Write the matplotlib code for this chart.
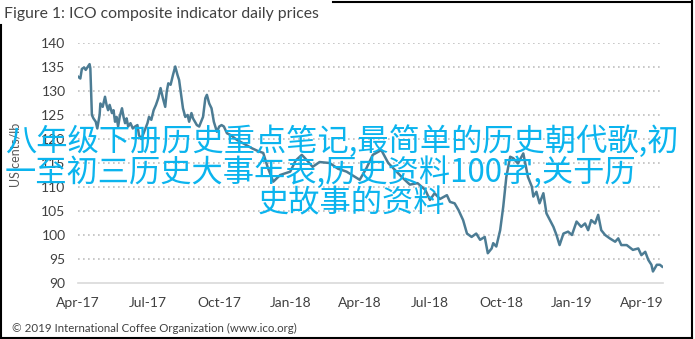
import matplotlib
matplotlib.use("Agg")
import matplotlib.pyplot as plt
import matplotlib.dates as mdates
from matplotlib.lines import Line2D
import pandas as pd

# ICO composite indicator, US cents/lb
dates = [
    "2017-04-01", "2017-04-04", "2017-04-06", "2017-04-09", "2017-04-11", "2017-04-14",
    "2017-04-16", "2017-04-17", "2017-04-19", "2017-04-21", "2017-04-24", "2017-04-26",
    "2017-04-29", "2017-04-30", "2017-05-03", "2017-05-06", "2017-05-08", "2017-05-10",
    "2017-05-12", "2017-05-15", "2017-05-17", "2017-05-19", "2017-05-21", "2017-05-23",
    "2017-05-25", "2017-05-28", "2017-05-30", "2017-06-01", "2017-06-03", "2017-06-05",
    "2017-06-08", "2017-06-11", "2017-06-14", "2017-06-17", "2017-06-19", "2017-06-22",
    "2017-06-25", "2017-06-30", "2017-07-02", "2017-07-05", "2017-07-08", "2017-07-11",
    "2017-07-14", "2017-07-17", "2017-07-20", "2017-07-23", "2017-07-25", "2017-07-27",
    "2017-07-30", "2017-08-02", "2017-08-05", "2017-08-08", "2017-08-10", "2017-08-12",
    "2017-08-15", "2017-08-18", "2017-08-21", "2017-08-23", "2017-08-26", "2017-08-28",
    "2017-09-02", "2017-09-05", "2017-09-10", "2017-09-13", "2017-09-15", "2017-09-18",
    "2017-09-21", "2017-09-24", "2017-09-28", "2017-10-01", "2017-10-04", "2017-10-07",
    "2017-10-11", "2017-10-16", "2017-10-24", "2017-11-01", "2017-11-12", "2017-11-20",
    "2017-11-27", "2017-12-03", "2017-12-10", "2017-12-19", "2018-01-01", "2018-01-08",
    "2018-01-16", "2018-01-23", "2018-01-30", "2018-02-08", "2018-02-21", "2018-03-04",
    "2018-03-15", "2018-03-22", "2018-04-01", "2018-04-10", "2018-04-18", "2018-04-29",
    "2018-05-08", "2018-05-17", "2018-05-26", "2018-06-05", "2018-06-15", "2018-06-25",
    "2018-07-01", "2018-07-07", "2018-07-14", "2018-07-23", "2018-07-27", "2018-08-02",
    "2018-08-07", "2018-08-13", "2018-08-18", "2018-08-24", "2018-08-30", "2018-09-04",
    "2018-09-10", "2018-09-14", "2018-09-19", "2018-09-21", "2018-09-25", "2018-09-30",
    "2018-10-04", "2018-10-08", "2018-10-13", "2018-10-17", "2018-10-23", "2018-10-30",
    "2018-11-05", "2018-11-10", "2018-11-12", "2018-11-16", "2018-11-20", "2018-11-25",
    "2018-11-29", "2018-12-08", "2018-12-12", "2018-12-16", "2018-12-21", "2018-12-27",
    "2019-01-01", "2019-01-07", "2019-01-13", "2019-01-18", "2019-01-22", "2019-01-26",
    "2019-01-31", "2019-02-04", "2019-02-08", "2019-02-13", "2019-02-19", "2019-02-26",
    "2019-03-02", "2019-03-06", "2019-03-13", "2019-03-21", "2019-03-28", "2019-04-01",
    "2019-04-06", "2019-04-10", "2019-04-14", "2019-04-16", "2019-04-21", "2019-04-25",
    "2019-04-28",
]
prices = [
    133.0, 132.6, 134.6, 134.9, 134.4, 135.1,
    135.6, 134.7, 125.0, 124.3, 123.6, 122.2,
    125.0, 127.4, 126.7, 128.8, 127.1, 126.0,
    127.1, 125.4, 126.0, 123.6, 124.6, 122.6,
    124.6, 126.4, 124.6, 123.3, 124.3, 122.6,
    123.3, 122.2, 122.6, 122.9, 120.8, 120.0,
    121.2, 123.3, 124.6, 124.0, 126.0, 127.1,
    128.5, 130.6, 128.5, 126.7, 129.9, 131.6,
    131.3, 133.3, 135.1, 133.3, 132.3, 129.9,
    126.4, 124.6, 125.0, 123.6, 125.4, 124.3,
    122.9, 122.6, 124.6, 128.5, 129.2, 127.4,
    126.4, 123.6, 121.5, 122.6, 122.9, 122.6,
    121.2, 120.8, 119.8, 119.1, 118.1, 117.5,
    117.1, 114.0, 111.1, 112.5, 113.2, 115.5,
    116.7, 115.5, 114.2, 115.2, 115.0, 113.8,
    113.2, 112.5, 111.5, 114.0, 116.7, 117.7,
    115.0, 113.5, 112.0, 110.5, 110.8, 109.4,
    107.3, 108.7, 107.5, 108.3, 106.9, 106.6,
    105.2, 103.1, 100.3, 99.6, 100.3, 99.0,
    99.6, 96.2, 97.2, 98.3, 97.6, 101.0,
    105.9, 112.1, 116.3, 116.0, 114.9, 117.0,
    112.1, 110.1, 108.0, 109.0, 106.6, 108.7,
    104.5, 101.7, 100.0, 97.9, 100.3, 100.7,
    100.0, 102.8, 101.7, 102.4, 101.0, 103.1,
    102.4, 104.2, 101.0, 100.0, 99.3, 98.6,
    99.3, 97.9, 97.9, 96.9, 97.2, 95.8,
    96.5, 94.8, 93.8, 92.4, 93.8, 93.8,
    93.4,
]
y_ticks = [90, 95, 100, 105, 110, 115, 120, 125, 130, 135, 140]
x_ticks = ["2017-04-01", "2017-07-01", "2017-10-01", "2018-01-01", "2018-04-01",
           "2018-07-01", "2018-10-01", "2019-01-01", "2019-04-01"]

title = "Figure 1: ICO composite indicator daily prices"
ylabel = "US cents/lb"
source = "\u00a9 2019 International Coffee Organization (www.ico.org)"
overlay = ["八年级下册历史重点笔记,最简单的历史朝代歌,初",
           "一至初三历史大事年表,历史资料100字,关于历",
           "史故事的资料"]

txt_col = "#404040"
plt.rcParams['font.family'] = ['Lato', 'DejaVu Sans']

fig = plt.figure(figsize=(6.95, 3.39), dpi=100)
ax = fig.add_axes([78/695, 1 - 283/339, 585/695, 240/339])

ax.plot(pd.to_datetime(dates), prices, color="#4c7c94", lw=1.8)

ax.set_ylim(90, 140)
ax.set_yticks(y_ticks)
ax.set_xlim(pd.Timestamp("2017-04-01"), pd.Timestamp("2019-04-29"))
ax.set_xticks(pd.to_datetime(x_ticks))
ax.xaxis.set_major_formatter(mdates.DateFormatter("%b-%y"))
for t in y_ticks[1:]:
    ax.axhline(t, color="#bfbfbf", lw=1.2, ls=(0, (1, 2)), zorder=0)
for s in ["top", "right", "left"]:
    ax.spines[s].set_visible(False)
ax.spines["bottom"].set_color("#d9d9d9")
ax.spines["bottom"].set_linewidth(1.2)
ax.tick_params(axis="both", length=0, labelsize=10, labelcolor=txt_col)
ax.tick_params(axis="x", pad=10)
ax.tick_params(axis="y", pad=9)

fig.text(16/695, 1 - 155/339, ylabel, rotation=90, ha="center", va="center",
         fontsize=9, color="#595959")
fig.text(4/695, 1 - 14/339, title, ha="left", va="center", fontsize=11.3, color=txt_col)
fig.text(12/695, 1 - 328/339, source, ha="left", va="center", fontsize=8.3, color=txt_col)

# frame around the chart
for xs, ys in [([1, 1], [25, 338]), ([333, 692], [1.5, 1.5]),
               ([691.5, 691.5], [0, 338]), ([1, 692], [337.5, 337.5])]:
    fig.add_artist(Line2D([x / 695 for x in xs], [1 - y / 339 for y in ys],
                          color="black", lw=1.5))

# overlaid caption
for (x0, yc), line in zip([(5, 141), (5, 173), (258, 203)], overlay):
    fig.text(x0/695, 1 - yc/339, line, ha="left", va="center", fontsize=22.5,
             color="#0bb4ee", family=["Noto Sans CJK SC", "DejaVu Sans"])

fig.savefig("out.png", dpi=100)
